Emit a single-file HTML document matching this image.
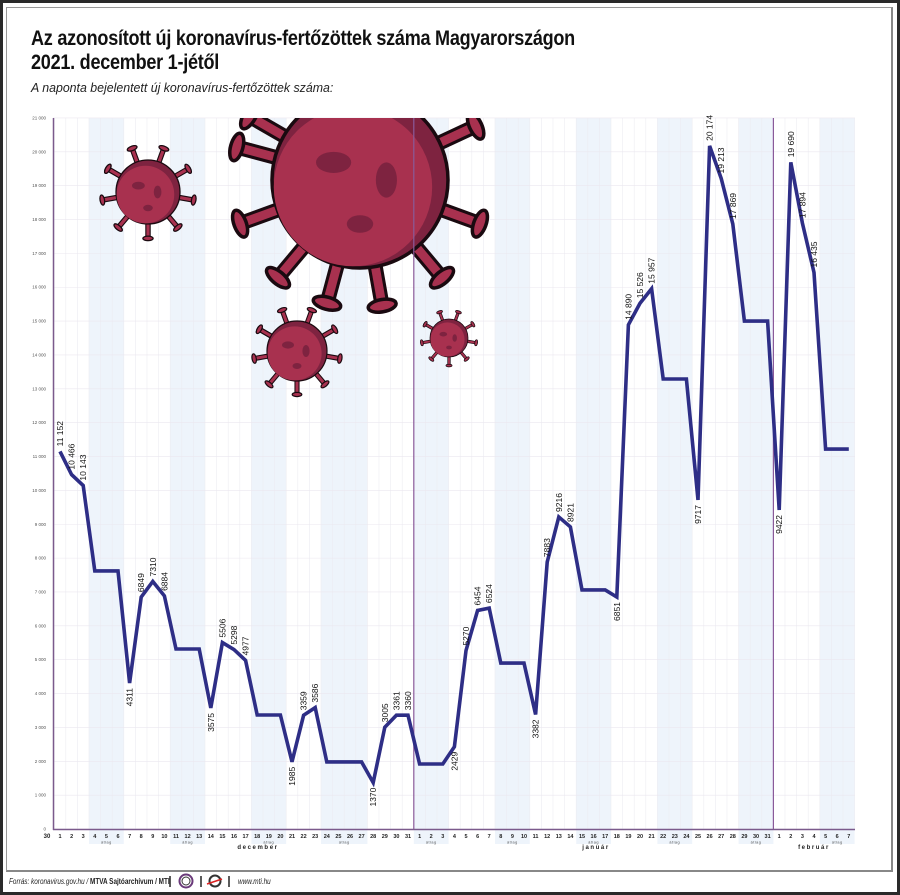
<!DOCTYPE html>
<html><head><meta charset="utf-8">
<style>
html,body{margin:0;padding:0;background:#fff}
body{width:900px;height:895px;position:relative;overflow:hidden;font-family:"Liberation Sans",sans-serif}
.frame{position:absolute;left:0;top:0;width:894px;height:889px;border:3px solid #2a2a2a}
.inner{position:absolute;left:6px;top:7px;width:884px;height:862px;border:1px solid #999;border-right:2px solid #888;border-bottom:2px solid #888}
h1{position:absolute;left:31px;top:27px;margin:0;font-size:21px;line-height:24px;font-weight:bold;color:#111;letter-spacing:-0.3px;transform:scaleX(0.86);transform-origin:0 0;white-space:nowrap}
.sub{position:absolute;left:31px;top:80px;font-size:13px;font-style:italic;color:#222;transform:scaleX(0.95);transform-origin:0 0;white-space:nowrap}
svg{position:absolute;left:0;top:0}
.foot{position:absolute;top:877px;font-size:8px;font-style:italic;color:#222;white-space:nowrap;transform:scaleX(0.8);transform-origin:0 0}
</style></head><body>
<div class="frame"></div><div class="inner"></div>
<h1>Az azonosított új koronavírus-fertőzöttek száma Magyarországon<br>2021. december 1-jétől</h1>
<div class="sub">A naponta bejelentett új koronavírus-fertőzöttek száma:</div>
<svg id="c" width="900" height="895" xmlns="http://www.w3.org/2000/svg"></svg>
<div class="foot" style="left:9px">Forrás: koronavirus.gov.hu / <b style="font-style:normal">MTVA Sajtóarchívum / MTI</b></div>
<div class="foot" style="left:238px">www.mti.hu</div>
<svg width="900" height="895" style="pointer-events:none">
<line x1="170" y1="876" x2="170" y2="887" stroke="#222" stroke-width="1.5"/>
<line x1="201" y1="876" x2="201" y2="887" stroke="#222" stroke-width="1.5"/>
<line x1="229" y1="876" x2="229" y2="887" stroke="#222" stroke-width="1.5"/>
<circle cx="186" cy="881" r="6.5" fill="none" stroke="#6a3a7a" stroke-width="2"/><circle cx="186" cy="881" r="4" fill="none" stroke="#333" stroke-width="1"/>
<circle cx="215" cy="881" r="5.5" fill="none" stroke="#333" stroke-width="2"/><line x1="207" y1="884" x2="222" y2="879" stroke="#d22" stroke-width="1.5"/>
</svg>
<script>
const s=document.getElementById('c');let h='';
const X=i=>60+11.6*i, Y=v=>829-v*0.03386;
const sh=[[3,5],[10,12],[17,19],[23,26],[31,33],[38,40],[45,47],[52,54],[59,61],[66,68]];
sh.forEach(([a,b])=>{h+=`<rect x="${X(a)-5.8}" y="118" width="${(b-a+1)*11.6}" height="726" fill="#eef4fb"/>`});
for(let i=-1;i<69;i++)h+=`<line x1="${X(i)+5.8}" y1="118" x2="${X(i)+5.8}" y2="829" stroke="#ececf2" stroke-width="0.6"/>`;
for(let k=0;k<=21;k++){const y=Y(k*1000);h+=`<line x1="53" y1="${y}" x2="855" y2="${y}" stroke="#ebe7ef" stroke-width="0.6"/>`;
h+=`<text x="46" y="${y+1.5}" font-size="4.5" text-anchor="end" fill="#555">${k?(k+' 000'):'0'}</text>`}
function virus(cx,cy,r,angs){let o='';angs.forEach(a=>{const t=a*Math.PI/180,c=Math.cos(t),sn=Math.sin(t);
const x1=cx+c*r*0.8,y1=cy+sn*r*0.8,x2=cx+c*r*1.45,y2=cy+sn*r*1.45;
o+=`<line x1="${x1}" y1="${y1}" x2="${x2}" y2="${y2}" stroke="#1a0a10" stroke-width="${r*0.17}" stroke-linecap="round"/><line x1="${x1}" y1="${y1}" x2="${x2}" y2="${y2}" stroke="#a8314f" stroke-width="${r*0.1}"/>`;
o+=`<ellipse cx="${x2}" cy="${y2}" rx="${r*0.07}" ry="${r*0.16}" transform="rotate(${a} ${x2} ${y2})" fill="#a8314f" stroke="#1a0a10" stroke-width="${r*0.04}"/>`});
o+=`<circle cx="${cx}" cy="${cy}" r="${r}" fill="#7e2340" stroke="#1a0a10" stroke-width="${r*0.04}"/><circle cx="${cx-r*0.08}" cy="${cy+r*0.08}" r="${r*0.9}" fill="#a8314f"/>`;
o+=`<ellipse cx="${cx-r*0.3}" cy="${cy-r*0.2}" rx="${r*0.2}" ry="${r*0.12}" fill="#7e2340"/><ellipse cx="${cx+r*0.3}" cy="${cy}" rx="${r*0.12}" ry="${r*0.2}" fill="#7e2340"/><ellipse cx="${cx}" cy="${cy+r*0.5}" rx="${r*0.15}" ry="${r*0.1}" fill="#7e2340"/>`;
return o}
h+=`<clipPath id="cl"><rect x="0" y="118" width="900" height="800"/></clipPath>`;
h+=`<g clip-path="url(#cl)">`+virus(360,180,88,[-150,-120,-60,-25,20,50,80,105,130,160,195])+`</g>`;
h+=virus(148,192,32,[-150,-110,-70,-30,10,50,90,130,170,210]);
h+=virus(297,351,30,[-150,-110,-70,-30,10,50,90,130,170,210]);
h+=virus(449,338,19,[-150,-110,-70,-30,10,50,90,130,170,210]);
const d=[11152,10466,10143,7620,7620,7620,4311,6849,7310,6884,5316,5316,5316,3575,5506,5298,4977,3367,3367,3367,1985,3359,3586,1980,1980,1980,1980,1370,3005,3361,3360,
1920,1920,1920,2429,5270,6454,6524,4900,4900,4900,3382,7883,9216,8921,7060,7060,7060,6851,14890,15526,15957,13290,13290,13290,9717,20174,19213,17869,15000,15000,15000,
9422,19690,17894,16435,11220,11220,11220];
const lab={0:'u',1:'u',2:'u',6:'d',7:'u',8:'u',9:'u',13:'d',14:'u',15:'u',16:'u',20:'d',21:'u',22:'u',27:'d',28:'u',29:'u',30:'u',34:'d',35:'u',36:'u',37:'u',41:'d',42:'u',43:'u',44:'u',48:'d',49:'u',50:'u',51:'u',55:'d',56:'u',57:'u',58:'u',62:'d',63:'u',64:'u',65:'u'};
h+=`<line x1="${X(30)+5.8}" y1="118" x2="${X(30)+5.8}" y2="829" stroke="#8a5a9a" stroke-width="1.2"/><line x1="${X(61)+5.8}" y1="118" x2="${X(61)+5.8}" y2="829" stroke="#8a5a9a" stroke-width="1.2"/>`;
h+=`<line x1="53.5" y1="118" x2="53.5" y2="830" stroke="#7b5a8c" stroke-width="1.5"/><line x1="53" y1="829.5" x2="855" y2="829.5" stroke="#7b5a8c" stroke-width="1.5"/>`;
h+=`<polyline fill="none" stroke="#2e2e86" stroke-width="3.6" stroke-linejoin="miter" points="${d.map((v,i)=>X(i)+','+Y(v)).join(' ')}"/>`;
for(const k in lab){const i=+k,v=d[i],x=X(i)+3,y=Y(v);const t=v>=10000?v.toString().replace(/(\d+)(\d{3})$/,'$1 $2'):v;
if(lab[k]=='u')h+=`<text x="${x}" y="${y-5}" font-size="8.5" transform="rotate(-90 ${x} ${y-5})" fill="#111">${t}</text>`;
else h+=`<text x="${x}" y="${y+5}" font-size="8.5" text-anchor="end" transform="rotate(-90 ${x} ${y+5})" fill="#111">${t}</text>`}
h+=`<text x="47" y="838" font-size="6" font-weight="bold" text-anchor="middle" fill="#222">30</text>`;
const days=[];for(let i=1;i<=31;i++)days.push(i);for(let i=1;i<=31;i++)days.push(i);for(let i=1;i<=7;i++)days.push(i);
days.forEach((n,i)=>{h+=`<text x="${X(i)}" y="838" font-size="5.5" font-weight="bold" text-anchor="middle" fill="#222">${n}</text>`});
sh.forEach(([a,b])=>{h+=`<text x="${X((a+b)/2)}" y="843.5" font-size="3.8" text-anchor="middle" fill="#555" letter-spacing="0.5">átlag</text>`});
h+=`<text x="258" y="849" font-size="6" font-weight="bold" text-anchor="middle" letter-spacing="1.6" fill="#222">december</text>`;
h+=`<text x="596" y="849" font-size="6" font-weight="bold" text-anchor="middle" letter-spacing="1.6" fill="#222">január</text>`;
h+=`<text x="814" y="849" font-size="6" font-weight="bold" text-anchor="middle" letter-spacing="1.6" fill="#222">február</text>`;
s.innerHTML=h;
</script>
</body></html>
